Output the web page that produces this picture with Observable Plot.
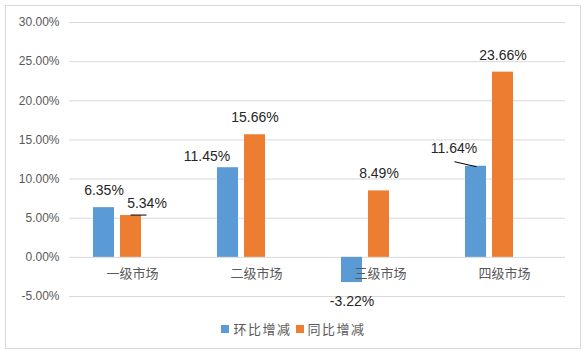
<!DOCTYPE html>
<html>
<head>
<meta charset="utf-8">
<script src="https://cdn.jsdelivr.net/npm/d3@7"></script>
<script src="https://cdn.jsdelivr.net/npm/@observablehq/plot@0.6"></script>
<style>
  html, body { margin: 0; padding: 0; background: #fff; }
  #wrap { position: relative; width: 587px; height: 356px; overflow: hidden; background: #fff;
          font-family: "Liberation Sans", "Noto Sans CJK SC", sans-serif; }
  #border { position: absolute; left: 5px; top: 5px; width: 576px; height: 344px; border: 1px solid #d9d9d9; box-sizing: border-box; pointer-events: none; }
  #chart { position: absolute; left: 0; top: 0; }
  #legend { position: absolute; left: 0; top: 319px; width: 587px; text-align: center; font-size: 13px; color: #595959;
            font-family: "Noto Sans CJK SC", sans-serif; letter-spacing: 1.5px; }
  .sw { display: inline-block; width: 8px; height: 8px; margin-right: 4px; vertical-align: 1px; }
  .item { display: inline-block; margin: 0 2px; }
</style>
</head>
<body>
<div id="wrap">
  <div id="chart"></div>
  <div id="legend"></div>
  <div id="border"></div>
</div>
<script>
// ---- data ----
const categories = ["一级市场", "二级市场", "三级市场", "四级市场"];
const seriesNames = ["环比增减", "同比增减"];
const hbValues = [6.35, 11.45, -3.22, 11.64];   // 环比增减
const tbValues = [5.34, 15.66, 8.49, 23.66];    // 同比增减
const yTicks = [-5, 0, 5, 10, 15, 20, 25, 30];

// ---- styling / layout config ----
const colors = ["#5B9BD5", "#ED7D31"];
const marginLeft = 68;
const defaultNudge = [0, -17];
const labelNudge = {
  "一级市场|同比增减": [16, -12],
  "二级市场|环比增减": [-21, -11],
  "三级市场|环比增减": [0, 19],
  "四级市场|环比增减": [-22, -18]
};
const leaderShapes = {
  "一级市场|同比增减": [[0, 0], [16, 0]],
  "四级市场|环比增减": [[-21, -4], [1, 1]]
};

const rows = categories.flatMap((c, i) => [
  {category: c, series: seriesNames[0], value: hbValues[i]},
  {category: c, series: seriesNames[1], value: tbValues[i]}
]);
const key = d => d.category + "|" + d.series;
const leaderRows = rows.filter(d => leaderShapes[key(d)]);

const textMarks = rows.map(d => {
  const [dx, dy] = labelNudge[key(d)] || (d.value < 0 ? [0, 19] : defaultNudge);
  return Plot.text([d], {
    fx: "category", x: "series", y: "value",
    text: r => r.value.toFixed(2) + "%",
    dx, dy, fill: "#262626", fontSize: 14, textAnchor: "middle", lineAnchor: "middle"
  });
});

const leaderMark = Plot.link(leaderRows, {
  fx: "category", x1: "series", x2: "series", y1: "value", y2: "value",
  stroke: "#000",
  render(index, scales) {
    const g = d3.create("svg:g");
    let bw = scales.x.bandwidth;
    bw = typeof bw === "function" ? bw() : (bw ?? 21.5);
    for (const i of index) {
      const d = leaderRows[i];
      const cx = scales.x(d.series) + bw / 2;
      const cy = scales.y(d.value);
      const [[ax, ay], [bx, by]] = leaderShapes[key(d)];
      g.append("line")
        .attr("x1", cx + ax).attr("y1", cy + ay)
        .attr("x2", cx + bx).attr("y2", cy + by)
        .attr("stroke", "#000").attr("stroke-width", 1);
    }
    return g.node();
  }
});

const chart = Plot.plot({
  width: 587,
  height: 312,
  marginLeft,
  marginRight: 21,
  marginTop: 22,
  marginBottom: 16,
  style: {fontFamily: '"Liberation Sans", "Noto Sans CJK SC", sans-serif', fontSize: "12px", color: "#595959", background: "transparent"},
  fx: {domain: categories, padding: 0, axis: null, label: null},
  x: {domain: seriesNames, range: [marginLeft + 24, marginLeft + 73], paddingInner: 0.22, paddingOuter: 0, axis: null, label: null},
  y: {domain: [-5, 30], ticks: yTicks, tickFormat: d => d.toFixed(2) + "%", tickSize: 0, tickPadding: 10, label: null, axis: "left"},
  color: {domain: seriesNames, range: colors},
  marks: [
    Plot.ruleY(yTicks, {stroke: "#d9d9d9", strokeWidth: 1}),
    Plot.barY(rows, {fx: "category", x: "series", y: "value", fill: "series"}),
    ...textMarks,
    leaderMark,
    Plot.text(categories, {fx: d => d, y: () => 0, text: d => d, dy: 16, dx: 1, fill: "#595959", fontSize: 13,
      fontFamily: '"Noto Sans CJK SC", sans-serif', letterSpacing: 2, lineAnchor: "middle"})
  ]
});
document.getElementById("chart").appendChild(chart);

const legend = document.getElementById("legend");
seriesNames.forEach((s, i) => {
  const item = document.createElement("span");
  item.className = "item";
  item.innerHTML = `<span class="sw" style="background:${colors[i]}"></span>${s}`;
  legend.appendChild(item);
});
</script>
</body>
</html>
